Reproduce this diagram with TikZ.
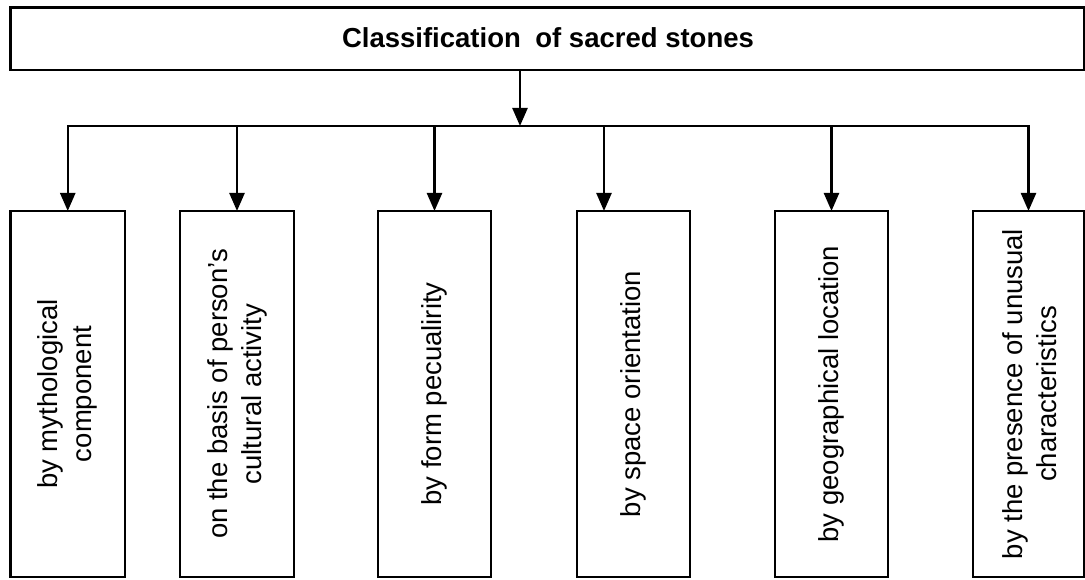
\documentclass[tikz,border=0pt]{standalone}
\usepackage{fontspec}
\setmainfont{Liberation Sans}
\usetikzlibrary{arrows.meta}
\begin{document}
\begin{tikzpicture}[x=1pt,y=-1pt,
  line width=2.4pt,
  box/.style={draw=black, line width=2.6pt, inner sep=0pt, outer sep=0pt},
  lbl/.style={rotate=90, align=center, font=\fontsize{27.5}{34}\selectfont},
  arr/.style={-{Triangle[length=18pt,width=15pt]}}]
\useasboundingbox (0,0) rectangle (1085,580);
% top box
\node[box, minimum width=1074pt, minimum height=62.5pt] (top) at (547.25,38.75) {};
\node[font=\fontsize{27.5}{33}\selectfont\bfseries] (title) at (548,38) {Classification\hspace{0.25em} of sacred stones};
% child boxes
\node[box, minimum width=114.5pt, minimum height=366pt] (b1) at (67.75,394) {};
\node[box, minimum width=114pt, minimum height=366pt] (b2) at (237,394) {};
\node[box, minimum width=113pt, minimum height=366pt] (b3) at (434.5,394) {};
\node[box, minimum width=113pt, minimum height=366pt] (b4) at (633.5,394) {};
\node[box, minimum width=113pt, minimum height=366pt] (b5) at (831.5,394) {};
\node[box, minimum width=111pt, minimum height=366pt] (b6) at (1028.5,394) {};
% labels
\node[lbl] (t1) at (b1.center) {by mythological\\component};
\node[lbl] (t2) at (b2.center) {on the basis of person's\\cultural activity};
\node[lbl] (t3) at (b3.center) {by form pecualirity};
\node[lbl] (t4) at (b4.center) {by space orientation};
\node[lbl] (t5) at (b5.center) {by geographical location};
\node[lbl] (t6) at (1030,394) {by the presence of unusual\\characteristics};
% connectors
\coordinate (mid) at (520,126);
\coordinate (j1) at (67.75,126);
\coordinate (j2) at (237,126);
\coordinate (j3) at (434.5,126);
\coordinate (j4) at (604,126);
\coordinate (j5) at (831.5,126);
\coordinate (j6) at (1028.5,126);
\draw[arr] (mid |- top.south) -- (mid);
\draw[line cap=rect] (j1) -- (j6);
\draw[arr] (j1) -- (j1 |- b1.north);
\draw[arr] (j2) -- (j2 |- b2.north);
\draw[arr] (j3) -- (j3 |- b3.north);
\draw[arr] (j4) -- (j4 |- b4.north);
\draw[arr] (j5) -- (j5 |- b5.north);
\draw[arr] (j6) -- (j6 |- b6.north);
\end{tikzpicture}
\end{document}
